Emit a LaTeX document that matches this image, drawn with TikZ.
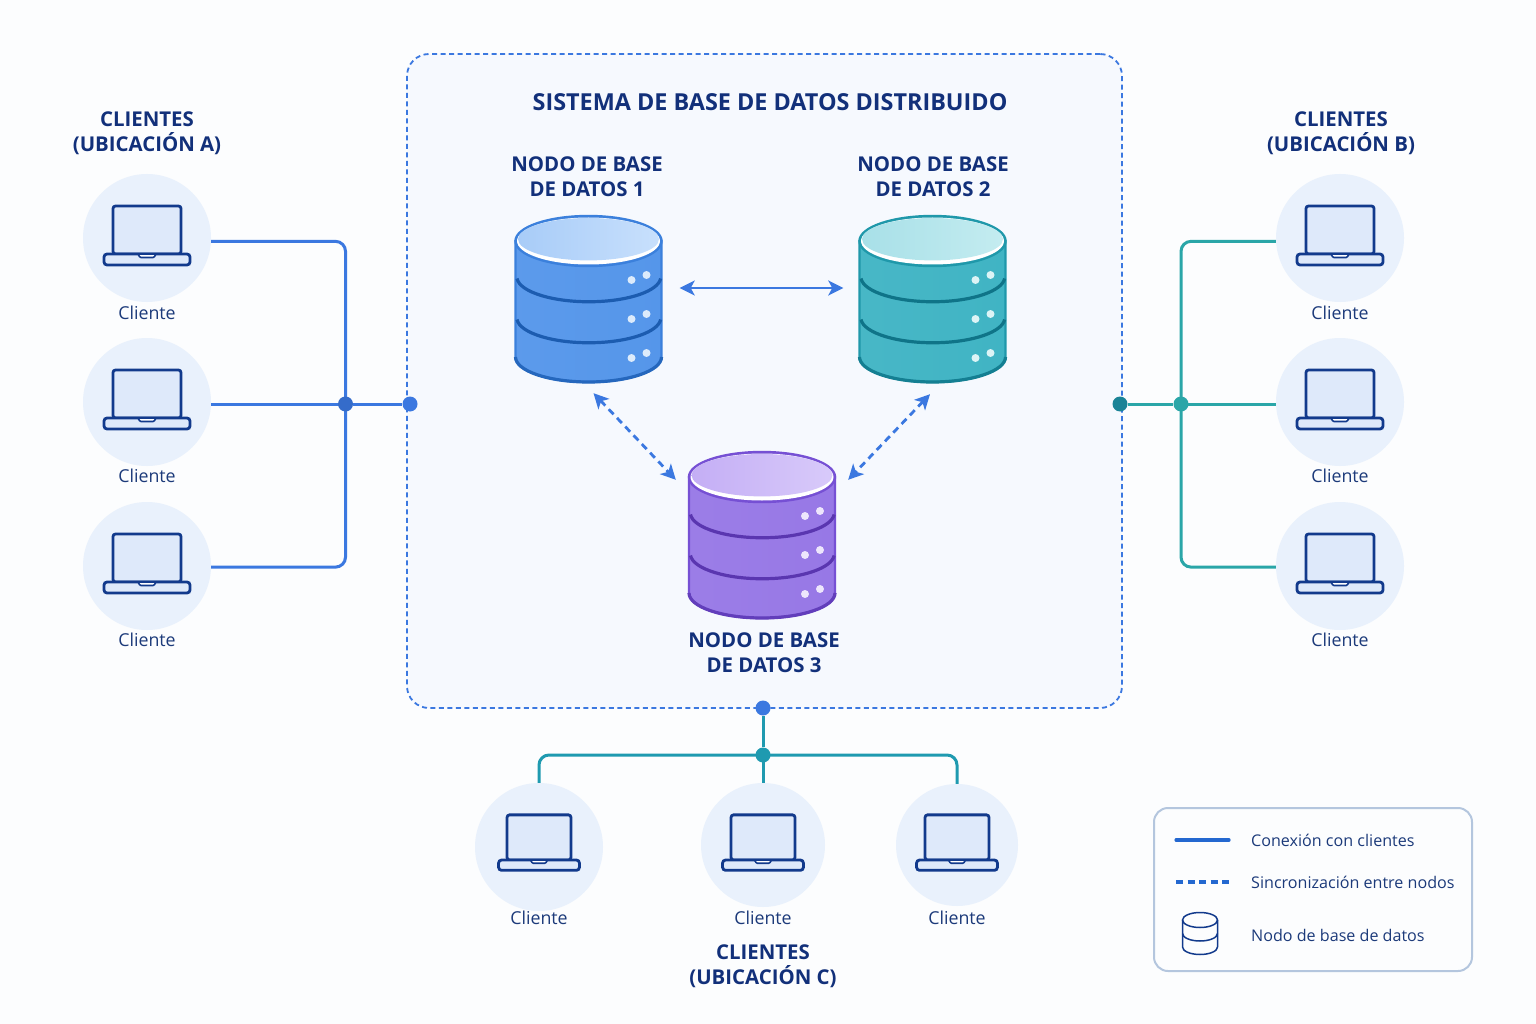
\documentclass[tikz,border=0pt]{standalone}
\usepackage{fontspec}
\setmainfont{Open Sans}
\usetikzlibrary{arrows.meta,calc}
\definecolor{bgc}{HTML}{FCFDFE}
\definecolor{panelc}{HTML}{F6F9FE}
\definecolor{navy}{HTML}{12307A}
\definecolor{txtc}{HTML}{1C3A7A}
\definecolor{bluel}{HTML}{3B78E0}
\definecolor{teall}{HTML}{2AA6A8}
\definecolor{tealb}{HTML}{1F9AB0}
\definecolor{circc}{HTML}{E9F1FC}
\definecolor{lapc}{HTML}{123A8C}
\definecolor{screenc}{HTML}{DEE9FA}
\definecolor{legc}{HTML}{B4C6DE}
\definecolor{legblue}{HTML}{2468D0}
\definecolor{aBody}{HTML}{5596EA}\definecolor{aEdge}{HTML}{3B80DC}\definecolor{aDark}{HTML}{1C5CB0}\definecolor{aTopL}{HTML}{A8CCF8}\definecolor{aTopR}{HTML}{C8E0FC}\definecolor{aDot}{HTML}{DCEBFB}
\definecolor{bBody}{HTML}{40B4C4}\definecolor{bEdge}{HTML}{1F98AA}\definecolor{bDark}{HTML}{0F7488}\definecolor{bTopL}{HTML}{A8E0E8}\definecolor{bTopR}{HTML}{C4ECF0}\definecolor{bDot}{HTML}{DCF4F6}
\definecolor{cBody}{HTML}{9778E6}\definecolor{cEdge}{HTML}{7650D4}\definecolor{cDark}{HTML}{5A36B0}\definecolor{cTopL}{HTML}{C4AEF5}\definecolor{cTopR}{HTML}{D8CAFA}\definecolor{cDot}{HTML}{EDE6FC}
\tikzset{
  x=1pt,y=-1pt,
  head/.style={font=\bfseries\fontsize{20.4}{25}\selectfont,text=navy,align=center,inner sep=0pt},
  titlehead/.style={font=\bfseries\fontsize{23.4}{28}\selectfont,text=navy,align=center,inner sep=0pt},
  lab/.style={font=\fontsize{17.8}{21}\selectfont,text=txtc,inner sep=0pt},
  legtxt/.style={font=\fontsize{16.1}{20}\selectfont,text=txtc,inner sep=0pt,anchor=west},
  clientc/.style={circle,fill=circc,inner sep=0pt,minimum size=#1},
  hubdot/.style={circle,fill=#1,inner sep=0pt,minimum size=15pt},
  conn/.style={line width=3pt,draw=#1,rounded corners=10pt},
  tips/.style={{Stealth[length=15pt,width=15pt,inset=4pt]}-{Stealth[length=15pt,width=15pt,inset=4pt]}},
  sync/.style={line width=2.8pt,draw=bluel,dash pattern=on 7pt off 5pt,tips},
  syncsolid/.style={line width=2.8pt,draw=bluel,tips},
  dbbox/.style={inner sep=0pt,minimum width=148pt,minimum height=166pt},
}
% centre x, top-ellipse centre y, colour prefix
\newcommand{\dbcyl}[3]{%
  \begin{scope}[shift={(#1,#2)}]
    \path[left color=#3Body!96!white,right color=#3Body,draw=#3Edge,line width=2.4pt]
      (-73,0) -- (-73,116) arc[start angle=180,end angle=0,x radius=73,y radius=25] -- (73,0) -- cycle;
    \draw[#3Dark,line width=3.2pt] (-71.5,37.5) arc[start angle=176,end angle=4,x radius=72,y radius=25];
    \draw[#3Dark,line width=3.2pt] (-71.5,78.5) arc[start angle=176,end angle=4,x radius=72,y radius=25];
    \draw[#3Dark!70!#3Edge,line width=3.2pt] (-73,116) arc[start angle=180,end angle=0,x radius=73,y radius=25];
    \draw[#3Edge,line width=2.4pt,fill=#3Edge] (0,0) ellipse[x radius=73,y radius=25];
    \fill[white] (0,0) ellipse[x radius=71.5,y radius=23.5];
    \path[left color=#3TopL,right color=#3TopR] (0,-1.8) ellipse[x radius=70.5,y radius=21.2];
    \foreach \dy in {0,39,78}{
      \fill[#3Dot] (43,39+\dy) circle[radius=4];
      \fill[#3Dot] (58,34+\dy) circle[radius=4];
    }
  \end{scope}}
% x, y of the screen/base joint, scale
\newcommand{\laptop}[3]{%
  \begin{scope}[shift={(#1,#2)},scale=#3]
    \draw[lapc,line width=2.8pt,fill=screenc,rounded corners=2.5pt] (-34,0) -- (-34,-48) -- (34,-48) -- (34,0) -- cycle;
    \draw[lapc,line width=2.8pt,fill=screenc,rounded corners=3pt] (-43,0) -- (43,0) -- (43,11) -- (-43,11) -- cycle;
    \draw[lapc,line width=1.6pt,fill=white,rounded corners=1pt] (-9,0) -- (9,0) -- (7,3.5) -- (-7,3.5) -- cycle;
  \end{scope}}
\begin{document}
\begin{tikzpicture}
\useasboundingbox (0,0) rectangle (1536,1024);
\fill[bgc] (0,0) rectangle (1536,1024);
% panel
\node[draw=bluel,fill=panelc,line width=1.8pt,dash pattern=on 5pt off 3.5pt,rounded corners=22pt,
  inner sep=0pt,minimum width=715pt,minimum height=654pt] (panel) at (764.5,381) {};
% client circles
\node[clientc=128pt] (ca1) at (147,238) {};
\node[clientc=128pt] (ca2) at (147,402) {};
\node[clientc=128pt] (ca3) at (147,566) {};
\node[clientc=128pt] (cb1) at (1340,238) {};
\node[clientc=128pt] (cb2) at (1340,402) {};
\node[clientc=128pt] (cb3) at (1340,566) {};
\node[clientc=128pt] (cc1) at (539,847) {};
\node[clientc=124pt] (cc2) at (763,845) {};
\node[clientc=122pt] (cc3) at (957,845) {};
% connectors (drawn with named hubs placed first)
\coordinate (hubAc) at (345.5,404);
\coordinate (hubBc) at (1181,404);
\coordinate (hubCc) at (763,755);
\draw[conn=bluel] (ca1.-3) -| (hubAc);
\draw[conn=bluel] (ca3.-1) -| (hubAc);
\draw[conn=bluel] (hubAc -| ca2.east) -- (hubAc);
\draw[conn=teall] (cb1.183) -| (hubBc);
\draw[conn=teall] (cb3.181) -| (hubBc);
\draw[conn=teall] (hubBc -| cb2.west) -- (hubBc);
\draw[conn=tealb] (cc1.north) |- (hubCc);
\draw[conn=tealb] (cc3.north) |- (hubCc);
\draw[conn=tealb] (cc2.north) -- (hubCc);
% hubs
\node[hubdot=bluel] (portA) at (410,404) {};
\node[hubdot=teall] (hubB) at (1181,404) {};
\node[hubdot=tealb!85!black] (portB) at (1120,404) {};
\node[hubdot=bluel] (portC) at (763,708) {};
\node[hubdot=tealb] (hubC) at (763,755) {};
\node[hubdot=bluel!90!black] (hubA) at (345.5,404) {};
\draw[conn=bluel] (hubA) -- (portA);
\draw[conn=teall] (hubB) -- (portB);
\draw[conn=tealb] (hubC) -- (portC);
% laptops
\foreach \yy in {254,418,582}{\laptop{147}{\yy}{1}\laptop{1340}{\yy}{1}}
\laptop{539}{860}{.94}
\laptop{763}{860}{.94}
\laptop{957}{860}{.94}
% database nodes
\node[dbbox] (db1) at (588.5,299) {};
\node[dbbox] (db2) at (932.5,299) {};
\node[dbbox] (db3) at (762,535) {};
\dbcyl{588.5}{241}{a}
\dbcyl{932.5}{241}{b}
\dbcyl{762}{477}{c}
% sync arrows
\draw[syncsolid] ([xshift=17pt,yshift=11pt]db1.east) -- ([xshift=-15pt,yshift=11pt]db2.west);
\draw[sync] ([shift={(5pt,-11pt)}]db1.south) -- ([shift={(-12pt,-28pt)}]db3.north west);
\draw[sync] ([shift={(-2.5pt,-12pt)}]db2.south) -- ([shift={(12pt,-28pt)}]db3.north east);
% texts
\node[titlehead] (title) at (770,102) {SISTEMA DE BASE DE DATOS DISTRIBUIDO};
\node[head] (n1) at (587,177) {NODO DE BASE\\DE DATOS 1};
\node[head] (n2) at (933,177) {NODO DE BASE\\DE DATOS 2};
\node[head] (n3) at (764,653) {NODO DE BASE\\DE DATOS 3};
\node[head] (ta) at (147,133) {CLIENTES\\(UBICACIÓN A)};
\node[head] (tb) at (1341,133) {CLIENTES\\(UBICACIÓN B)};
\node[head] (tc) at (763,966) {CLIENTES\\(UBICACIÓN C)};
\node[lab] (la1) at (147,313) {Cliente};
\node[lab] (la2) at (147,476) {Cliente};
\node[lab] (la3) at (147,640) {Cliente};
\node[lab] (lb1) at (1340,313) {Cliente};
\node[lab] (lb2) at (1340,476) {Cliente};
\node[lab] (lb3) at (1340,640) {Cliente};
\node[lab] (lc1) at (539,918) {Cliente};
\node[lab] (lc2) at (763,918) {Cliente};
\node[lab] (lc3) at (957,918) {Cliente};
% legend
\node[draw=legc,fill=bgc,line width=2pt,rounded corners=14pt,inner sep=0pt,
  minimum width=318pt,minimum height=163pt] (legend) at (1313,889.5) {};
\coordinate (l1a) at (1176,840); \coordinate (l1b) at (1229,840);
\coordinate (l2a) at (1176,882); \coordinate (l2b) at (1229,882);
\draw[legblue,line width=3.2pt,line cap=round] (l1a) -- (l1b);
\draw[legblue,line width=3.2pt,dash pattern=on 7pt off 4.5pt] (l2a) -- (l2b);
\begin{scope}[shift={(1200,920)},lapc,line width=1.5pt]
  \draw (0,0) ellipse[x radius=17.5,y radius=7.5];
  \draw (-17.5,0) -- (-17.5,27) arc[start angle=180,end angle=0,x radius=17.5,y radius=7.5] -- (17.5,0);
  \draw (-17.5,13.5) arc[start angle=180,end angle=0,x radius=17.5,y radius=7.5];
\end{scope}
\node[legtxt] (lt1) at (1251,840) {Conexión con clientes};
\node[legtxt] (lt2) at (1251,882) {Sincronización entre nodos};
\node[legtxt] (lt3) at (1251,935) {Nodo de base de datos};
\end{tikzpicture}
\end{document}
